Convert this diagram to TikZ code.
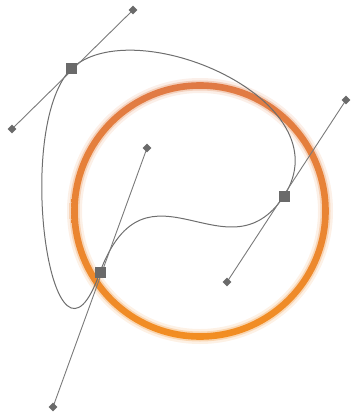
\documentclass[tikz,border=0pt]{standalone}
\usetikzlibrary{shapes.geometric}
\definecolor{ringtop}{HTML}{E07A45}
\definecolor{ringbot}{HTML}{F28E22}
\definecolor{pathgray}{HTML}{6E6E6E}
\definecolor{handlegray}{HTML}{7A7A7A}
\definecolor{knotgray}{HTML}{6A6A6A}
\tikzset{
  anchorpt/.style={rectangle, fill=knotgray, inner sep=0pt, minimum size=11pt},
  handlept/.style={diamond, fill=knotgray, inner sep=0pt, minimum size=9pt},
  handleline/.style={draw=handlegray, line width=0.9pt},
  bezpath/.style={draw=pathgray, line width=1pt}
}
\begin{document}
\begin{tikzpicture}[x=1pt,y=-1pt]
\useasboundingbox (0,0) rectangle (353,417);
% blurred ring
\shade[top color=ringtop!12, bottom color=ringbot!12, even odd rule] (200,211) circle (133) (200,211) circle (118);
\shade[top color=ringtop!35, bottom color=ringbot!35, even odd rule] (200,211) circle (130.5) (200,211) circle (120.5);
\shade[top color=ringtop, bottom color=ringbot, even odd rule] (200,211) circle (128.8) (200,211) circle (122.2);
% nodes
\coordinate (a1) at (71,69);
\coordinate (a2) at (284,196);
\coordinate (a3) at (100,272);
\coordinate (h1a) at (133,10);
\coordinate (h1b) at (12,129);
\coordinate (h2a) at (346,100);
\coordinate (h2b) at (227,282);
\coordinate (h3a) at (147,148);
\coordinate (h3b) at (53,407);
% path
\draw[bezpath] (a1) .. controls (h1a) and (h2a) .. (a2)
  .. controls (h2b) and (h3a) .. (a3)
  .. controls (h3b) and (h1b) .. (a1);
% handle lines
\draw[handleline] (h1b) -- (h1a);
\draw[handleline] (h2a) -- (h2b);
\draw[handleline] (h3a) -- (h3b);
% knots
\node[anchorpt] (k1) at (a1) {};
\node[anchorpt] (k2) at (a2) {};
\node[anchorpt] (k3) at (a3) {};
\node[handlept] (d1) at (h1a) {};
\node[handlept] (d2) at (h1b) {};
\node[handlept] (d3) at (h2a) {};
\node[handlept] (d4) at (h2b) {};
\node[handlept] (d5) at (h3a) {};
\node[handlept] (d6) at (h3b) {};
\end{tikzpicture}
\end{document}
